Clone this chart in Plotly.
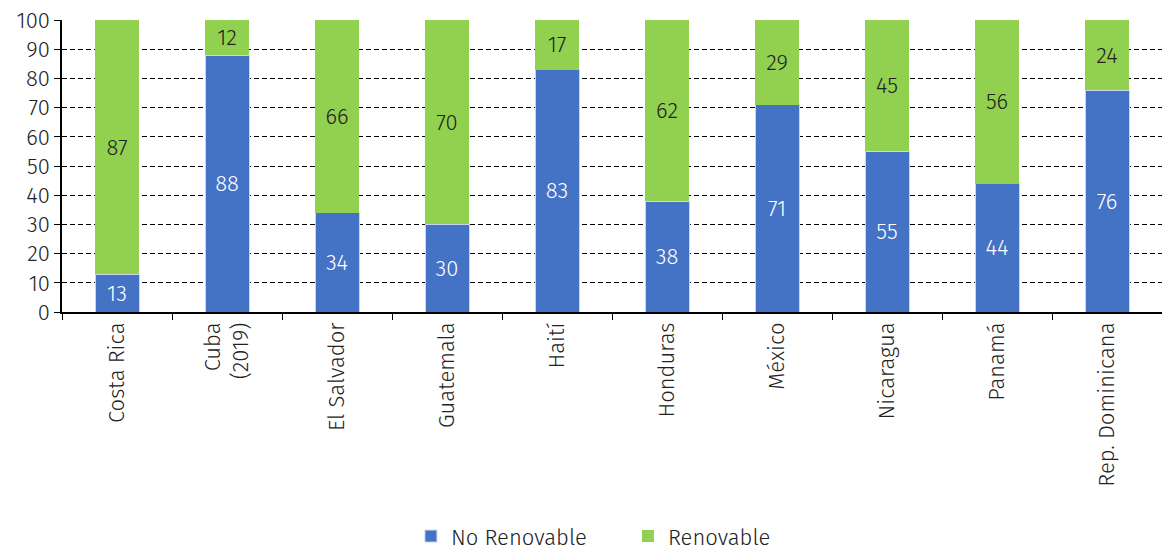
import plotly.graph_objects as go

categories = ["Costa Rica", "Cuba<br>(2019)", "El Salvador", "Guatemala", "Haití",
              "Honduras", "México", "Nicaragua", "Panamá", "Rep. Dominicana"]
no_renovable = [13, 88, 34, 30, 83, 38, 71, 55, 44, 76]
renovable = [87, 12, 66, 70, 17, 62, 29, 45, 56, 24]
y_ticks = [0, 10, 20, 30, 40, 50, 60, 70, 80, 90, 100]

FONT = "Fira Sans Light, Fira Sans, Noto Sans, sans-serif"

fig = go.Figure()
fig.add_trace(go.Bar(
    x=categories, y=no_renovable, name="No Renovable",
    marker=dict(color="#4472C4", line=dict(width=1, color="#C9D6EE")),
    text=[str(v) for v in no_renovable], textposition="inside",
    insidetextanchor="middle", textangle=0,
    textfont=dict(color="white", size=22, family=FONT),
))
fig.add_trace(go.Bar(
    x=categories, y=renovable, name="Renovable",
    marker=dict(color="#92D050", line=dict(width=0)),
    text=[str(v) for v in renovable], textposition="inside",
    insidetextanchor="middle", textangle=0,
    textfont=dict(color="#222222", size=22, family=FONT),
))

fig.update_layout(
    width=1162, height=550,
    barmode="stack", bargap=0.6,
    plot_bgcolor="white", paper_bgcolor="white",
    margin=dict(l=62, r=0, t=20, b=238),
    font=dict(family=FONT, size=22, color="#222222"),
    legend=dict(orientation="h", x=0.5145, xanchor="center", yref="container",
                y=0.025, yanchor="middle", font=dict(size=22),
                entrywidth=172, itemwidth=30, traceorder="normal"),
    showlegend=True,
)
fig.update_xaxes(
    tickangle=-90, tickson="boundaries", ticks="outside", ticklen=6,
    tickcolor="black", showline=True, linecolor="black", linewidth=1.5,
    tickfont=dict(size=22), showgrid=False,
)
fig.update_yaxes(
    range=[0, 100], tickvals=y_ticks, ticks="outside", ticklen=6,
    tickcolor="black", showline=True, linecolor="black", linewidth=1.5,
    showgrid=True, gridcolor="black", griddash="5px,3px", gridwidth=1,
    tickfont=dict(size=22), zeroline=False,
)

fig.write_html("out.html")
